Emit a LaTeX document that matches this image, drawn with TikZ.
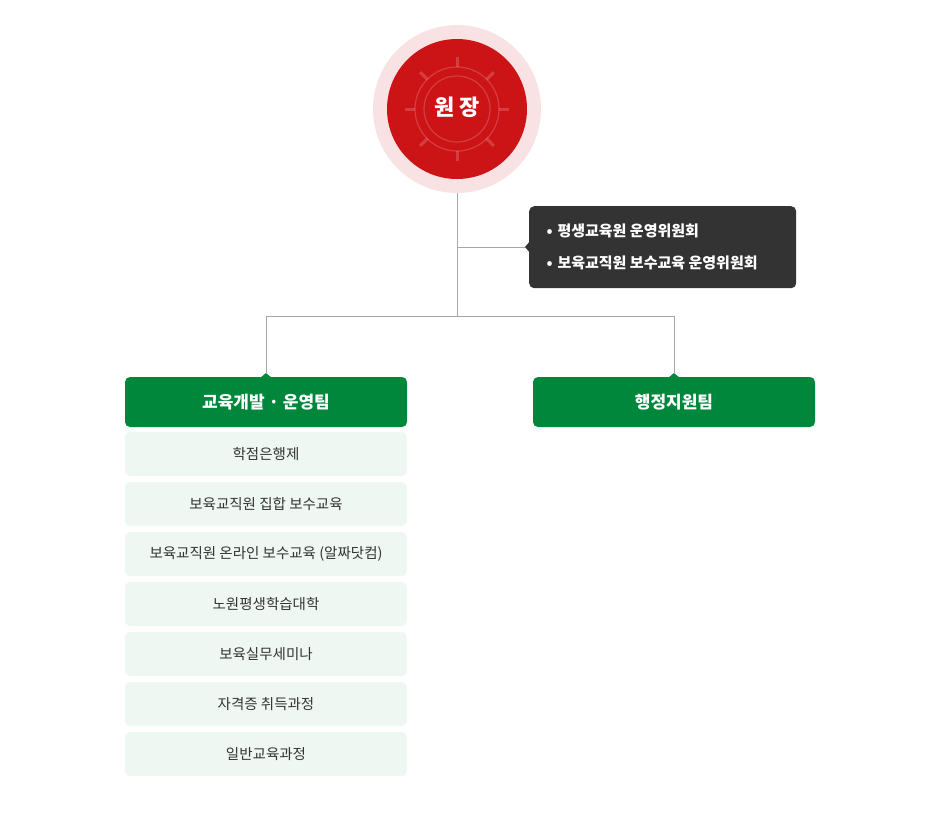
\documentclass[tikz,border=0pt]{standalone}
\usepackage{fontspec}
\setmainfont{Noto Sans CJK KR}
\definecolor{gr}{HTML}{00873C}
\definecolor{lg}{HTML}{EFF7F2}
\definecolor{dk}{HTML}{333333}
\definecolor{rd}{HTML}{CC1417}
\definecolor{pk}{HTML}{F8E2E3}
\tikzset{
 item/.style={fill=lg,rounded corners=5pt,minimum width=282pt,minimum height=44pt,inner sep=0pt,font=\fontsize{14.5}{16}\selectfont,text=black!80},
 head/.style={fill=gr,rounded corners=5pt,minimum width=282pt,minimum height=50pt,inner sep=0pt,font=\fontsize{17}{19}\selectfont\bfseries,text=white},
 ln/.style={draw=black!35,line width=0.8pt}
}
\begin{document}
\begin{tikzpicture}[x=1pt,y=-1pt]
\useasboundingbox (0,0) rectangle (940,815);
\node[circle,fill=pk,minimum size=168pt,inner sep=0pt] (ceo) at (457,109) {};
\fill[rd] (457,109) circle (70);
\draw[white,opacity=0.18,line width=1.2pt] (457,109) circle (42) (457,109) circle (33);
\foreach \a in {0,45,...,315}{\draw[white,opacity=0.18,line width=3pt] (457,109) ++(\a:42) -- ++(\a:10);}
\node[font=\fontsize{22}{24}\selectfont\bfseries,text=white] at (457,107) {원 장};
\coordinate (j1) at (457,247);
\coordinate (j2) at (457,316);
\coordinate (l1) at (266,316);
\coordinate (r1) at (674,316);
\node[fill=dk,rounded corners=5pt,minimum width=267pt,minimum height=82pt,anchor=north west,inner sep=0pt] (cb) at (529,206) {};
\fill[dk] (525,247) -- (531,240) -- (531,254) -- cycle;
\node[anchor=west,text=white,font=\fontsize{15}{17}\selectfont\bfseries] at (543,231) {•\hspace{5pt}평생교육원 운영위원회};
\node[anchor=west,text=white,font=\fontsize{15}{17}\selectfont\bfseries] at (543,263) {•\hspace{5pt}보육교직원 보수교육 운영위원회};
\node[head] (L) at (266,402) {교육개발 · 운영팀};
\node[head] (R) at (674,402) {행정지원팀};
\fill[gr] (260,378) -- (266,373) -- (272,378) -- cycle;
\fill[gr] (668,378) -- (674,373) -- (680,378) -- cycle;
\draw[ln] (ceo.south) -- (j2);
\draw[ln] (j1) -- (525,247);
\draw[ln] (l1) -- (r1);
\draw[ln] (l1) -- (266,374);
\draw[ln] (r1) -- (674,374);
\node[item] (i1) at (266,454) {학점은행제};
\node[item] (i2) at (266,504) {보육교직원 집합 보수교육};
\node[item] (i3) at (266,554) {보육교직원 온라인 보수교육 (알짜닷컴)};
\node[item] (i4) at (266,604) {노원평생학습대학};
\node[item] (i5) at (266,654) {보육실무세미나};
\node[item] (i6) at (266,704) {자격증 취득과정};
\node[item] (i7) at (266,754) {일반교육과정};
\end{tikzpicture}
\end{document}
